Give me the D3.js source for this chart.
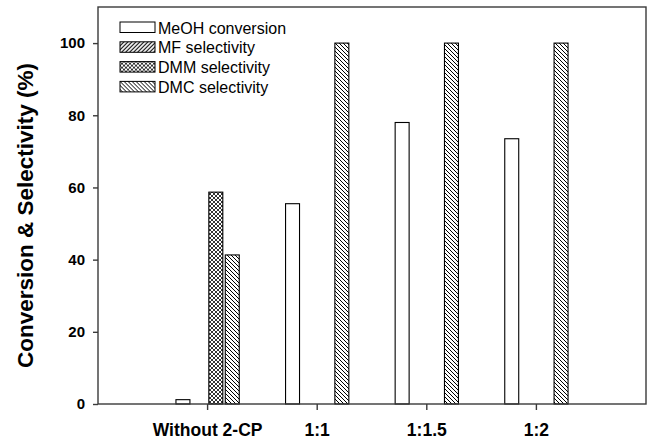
<!DOCTYPE html>
<html><head><meta charset="utf-8">
<script src="https://cdn.jsdelivr.net/npm/d3@7"></script>
<style>body{margin:0;background:#fff}svg{display:block}text{font-family:"Liberation Sans",Arial,sans-serif}</style>
</head><body>
<script>
const categories = ["Without 2-CP", "1:1", "1:1.5", "1:2"];
const seriesNames = ["MeOH conversion", "MF selectivity", "DMM selectivity", "DMC selectivity"];
const meohConversion = [1.2, 55.5, 78.0, 73.5];
const mfSelectivity = [0, 0, 0, 0];
const dmmSelectivity = [58.7, 0, 0, 0];
const dmcSelectivity = [41.3, 100, 100, 100];
const yTicks = [0, 20, 40, 60, 80, 100];
const yTitle = "Conversion & Selectivity (%)";

const W = 651, H = 441;
const m = {left: 98, right: 5, top: 7, bottom: 37};
const svg = d3.select("body").append("svg").attr("width", W).attr("height", H);
const defs = svg.append("defs");

// patterns
const pMF = defs.append("pattern").attr("id","pMF").attr("patternUnits","userSpaceOnUse").attr("width",4).attr("height",4);
pMF.append("rect").attr("width",4).attr("height",4).attr("fill","#fff");
pMF.append("path").attr("d","M-1,1 l2,-2 M0,4 l4,-4 M3,5 l2,-2").attr("stroke","#000").attr("stroke-width",1.1);

const pDMM = defs.append("pattern").attr("id","pDMM").attr("patternUnits","userSpaceOnUse").attr("width",4).attr("height",4);
pDMM.append("rect").attr("width",4).attr("height",4).attr("fill","#fff");
pDMM.append("path").attr("d","M-1,1 l2,-2 M0,4 l4,-4 M3,5 l2,-2 M-1,3 l2,2 M0,0 l4,4 M3,-1 l2,2").attr("stroke","#000").attr("stroke-width",0.8);

const pDMC = defs.append("pattern").attr("id","pDMC").attr("patternUnits","userSpaceOnUse").attr("width",4).attr("height",4);
pDMC.append("rect").attr("width",4).attr("height",4).attr("fill","#fff");
pDMC.append("path").attr("d","M-1,3 l2,2 M0,0 l4,4 M3,-1 l2,2").attr("stroke","#000").attr("stroke-width",1);

const fills = ["#fff", "url(#pMF)", "url(#pDMM)", "url(#pDMC)"];
const seriesValues = [meohConversion, mfSelectivity, dmmSelectivity, dmcSelectivity];

const x0 = d3.scaleBand().domain(categories).range([m.left, W - m.right]).paddingInner(0.4).paddingOuter(0.7);
const x1 = d3.scaleBand().domain(seriesNames).range([0, x0.bandwidth()]).paddingInner(0.15).paddingOuter(0.075);
const y = d3.scaleLinear().domain([0, 110]).range([H - m.bottom, m.top]);

// bars
const data = [];
categories.forEach((c, i) => seriesNames.forEach((s, j) => data.push({c, s, j, v: seriesValues[j][i]})));
svg.append("g").selectAll("rect").data(data.filter(d => d.v > 0)).join("rect")
  .attr("x", d => x0(d.c) + x1(d.s))
  .attr("y", d => y(d.v))
  .attr("width", x1.bandwidth())
  .attr("height", d => y(0) - y(d.v))
  .attr("fill", d => fills[d.j])
  .attr("stroke", "#000").attr("stroke-width", 1.1);

// frame
const axCol = "#3a3a3a";
svg.append("rect").attr("x", m.left).attr("y", m.top)
  .attr("width", W - m.right - m.left).attr("height", y(0) - m.top)
  .attr("fill", "none").attr("stroke", axCol).attr("stroke-width", 1.4);

// y axis
const ya = svg.append("g").attr("transform", `translate(${m.left},0)`)
  .call(d3.axisLeft(y).tickValues(yTicks).tickSize(5).tickPadding(8));
ya.select(".domain").remove();
ya.selectAll("line").attr("stroke", axCol).attr("stroke-width", 1.4);
ya.selectAll("text").attr("font-size", 15).attr("font-weight", "bold").attr("fill", "#000")
  .style("font-family", '"Liberation Sans",Arial,sans-serif');

// x axis
const xa = svg.append("g").attr("transform", `translate(0,${y(0)})`)
  .call(d3.axisBottom(x0).tickSize(6).tickPadding(14));
xa.select(".domain").remove();
xa.selectAll("line").attr("stroke", axCol).attr("stroke-width", 1.4);
xa.selectAll("text").attr("font-size", 17.5).attr("font-weight", "bold").attr("fill", "#000")
  .style("font-family", '"Liberation Sans",Arial,sans-serif');

// y title
svg.append("text").attr("transform", `translate(33,${(m.top + y(0)) / 2 + 10}) rotate(-90)`)
  .attr("text-anchor", "middle").attr("font-size", 22.5).attr("font-weight", "bold").text(yTitle);

// legend
const lg = svg.append("g").attr("transform", "translate(120,22)");
seriesNames.forEach((s, j) => {
  const g = lg.append("g").attr("transform", `translate(0,${j * 19.8})`);
  g.append("rect").attr("width", 35).attr("height", 10.5).attr("fill", fills[j]).attr("stroke", "#000").attr("stroke-width", 1);
  g.append("text").attr("x", 38).attr("y", 11.5).attr("font-size", 16).text(s);
});
</script>
</body></html>
